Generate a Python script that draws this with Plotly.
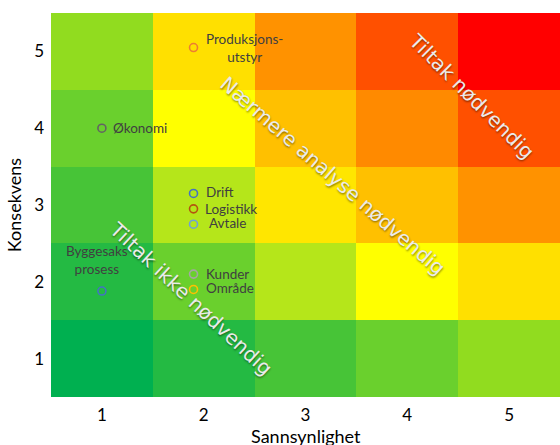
import plotly.graph_objects as go

# Risk matrix: probability (x) vs consequence (y)
sannsynlighet = [1, 2, 3, 4, 5]
konsekvens = [1, 2, 3, 4, 5]

# Risk level of each cell, rows = consequence 1..5, columns = probability 1..5
risikoniva = [
    [0, 1, 2, 3, 4],
    [1, 3, 5, 6, 7],
    [2, 5, 8, 9, 10],
    [3, 6, 9, 11, 12],
    [4, 7, 10, 12, 13],
]
palett = [
    "#00B050", "#24BA43", "#47C437", "#6AD02D", "#91DC1F", "#B5E61A", "#FFFF00",
    "#FFE000", "#FFE600", "#FFC000", "#FF9200", "#FF8A00", "#FF5000", "#FF0000",
]

# Assessed risks
risiko_navn = ["Produksjons-<br>utstyr", "Økonomi", "Drift", "Logistikk", "Avtale",
               "Kunder", "Område", "Byggesaks<br>prosess"]
risiko_x = [1.9, 1.0, 1.9, 1.9, 1.9, 1.9, 1.9, 1.0]
risiko_y = [5.05, 4.0, 3.15, 2.95, 2.75, 2.1, 1.9, 1.88]
risiko_farge = ["#ED7D31", "#636363", "#4472C4", "#B4540F", "#6FA0D8",
                "#A5A5A5", "#FFC000", "#4472C4"]

n = len(palett)
skala = []
for i, c in enumerate(palett):
    skala.append([i / n, c])
    skala.append([(i + 1) / n, c])

fig = go.Figure()
# each integer level sits in the middle of its colour band
fig.add_trace(go.Heatmap(
    x=sannsynlighet, y=konsekvens,
    z=[[v + 0.5 for v in rad] for rad in risikoniva],
    colorscale=skala, zmin=0, zmax=n, showscale=False, hoverinfo="skip",
))

fig.add_trace(go.Scatter(
    x=risiko_x, y=risiko_y, mode="markers",
    marker=dict(size=8, color="rgba(0,0,0,0)",
                line=dict(color=risiko_farge, width=1.6)),
    hoverinfo="skip", showlegend=False,
))

# label placement per risk (pixel offsets from the marker)
plassering = {
    "Produksjons-<br>utstyr": dict(xanchor="left", xshift=10, yshift=0, align="center"),
    "Økonomi": dict(xanchor="left", xshift=9, yshift=0, align="left"),
    "Drift": dict(xanchor="left", xshift=10, yshift=1, align="left"),
    "Logistikk": dict(xanchor="left", xshift=9, yshift=0, align="left"),
    "Avtale": dict(xanchor="left", xshift=13, yshift=1, align="left"),
    "Kunder": dict(xanchor="left", xshift=10, yshift=0, align="left"),
    "Område": dict(xanchor="left", xshift=10, yshift=1, align="left"),
    "Byggesaks<br>prosess": dict(xanchor="center", xshift=-5, yshift=31, align="center"),
}
for navn, x, y in zip(risiko_navn, risiko_x, risiko_y):
    p = plassering[navn]
    fig.add_annotation(
        x=x, y=y, text=navn, showarrow=False, yanchor="middle",
        font=dict(family="Lato", size=13.5, color="#404040"), **p,
    )

# zone captions along the diagonals
skygge = "1px 1px 2px rgba(0,0,0,0.45)"
soner = [
    ("Tiltak nødvendig", 4.63, 4.42, 45),
    ("Nærmere analyse nødvendig", 3.27, 3.38, 41),
    ("Tiltak ikke nødvendig", 1.88, 1.78, 43),
]
for tekst, x, y, vinkel in soner:
    fig.add_annotation(
        x=x, y=y, text=tekst, showarrow=False, textangle=vinkel,
        font=dict(family="DejaVu Sans", size=20, color="#EBEBEB", shadow=skygge),
    )

# x-axis title, placed below the tick labels at the bottom edge
fig.add_annotation(
    x=0.5, y=0, xref="paper", yref="paper", yanchor="top", yshift=-26,
    text="Sannsynlighet", showarrow=False,
    font=dict(family="Lato", size=18, color="black"),
)

fig.update_layout(
    width=560, height=445,
    margin=dict(l=51, r=0, t=13, b=48),
    paper_bgcolor="white", plot_bgcolor="white",
    showlegend=False,
    font=dict(family="Lato", color="black"),
)
fig.update_xaxes(
    range=[0.5, 5.5], tickvals=sannsynlighet, showgrid=False, zeroline=False,
    ticks="", tickfont=dict(size=17), ticklabelstandoff=6, automargin=False,
)
fig.update_yaxes(
    range=[0.5, 5.5], tickvals=konsekvens, showgrid=False, zeroline=False,
    ticks="", tickfont=dict(size=17), ticklabelstandoff=6,
    title=dict(text="Konsekvens", font=dict(size=18), standoff=7),
)

fig.write_html("out.html")
